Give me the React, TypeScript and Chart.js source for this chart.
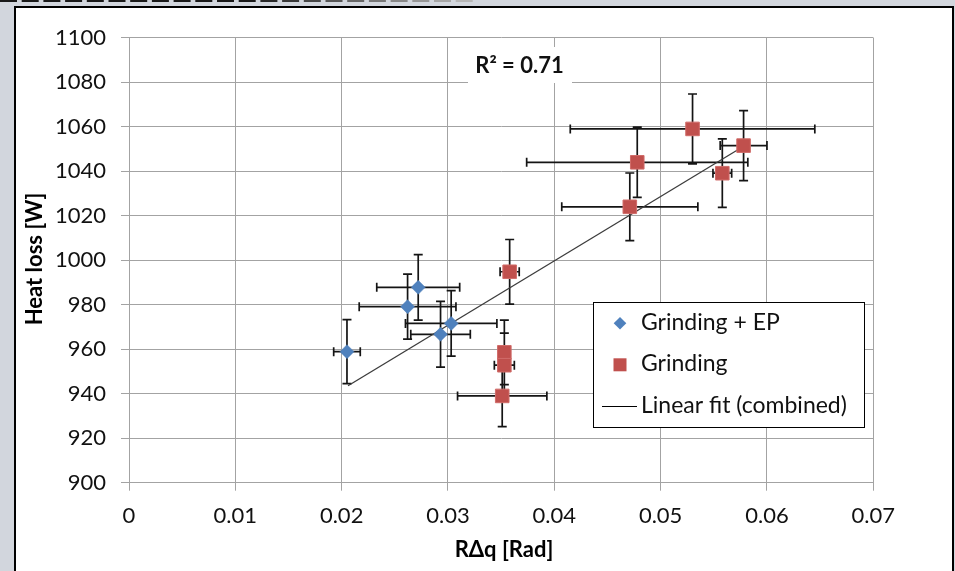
import React, { useEffect, useRef } from "react";
import { Chart, registerables } from "chart.js";

Chart.register(...registerables);

const W = 955;
const H = 571;

// X axis (RΔq [Rad]) tick values
const xTickValues = [0, 0.01, 0.02, 0.03, 0.04, 0.05, 0.06, 0.07];
// Y axis (Heat loss [W]) tick values
const yTickValues = [900, 920, 940, 960, 980, 1000, 1020, 1040, 1060, 1080, 1100];

// Grinding + EP
const gepX = [0.0205, 0.0262, 0.0272, 0.0293, 0.0303];
const gepY = [958.9, 979.1, 987.8, 966.7, 971.6];
const gepXErr = [0.00125, 0.00455, 0.0039, 0.0028, 0.0043];
const gepYErr = [14.4, 14.6, 14.7, 14.8, 14.7];

// Grinding
const grX = [0.0358, 0.0353, 0.0353, 0.0351, 0.0471, 0.0478, 0.053, 0.0578, 0.0558];
const grY = [994.8, 958.6, 952.8, 939.0, 1024.0, 1044.0, 1059.0, 1051.5, 1039.1];
const grXErr = [0.0009, 0.0005, 0.00094, 0.0042, 0.0064, 0.0104, 0.0115, 0.0022, 0.00088];
const grYErr = [14.5, 14.5, 14.4, 13.8, 15.2, 15.8, 15.7, 15.7, 15.4];

// Linear fit (combined) end points
const fitX = [0.0206, 0.058];
const fitY = [943.6, 1051.8];

const r2Label = "R² = 0.71";
const seriesNames = ["Grinding + EP", "Grinding", "Linear fit (combined)"];
const xTitle = "RΔq [Rad]";
const yTitle = "Heat loss [W]";

const BLUE = "#4f81bd";
const RED = "#c0504d";
const FONT = "Lato";

const toPts = (xs: number[], ys: number[]) => xs.map((x, i) => ({ x, y: ys[i] }));

const panelPlugin = {
  id: "panel",
  beforeDraw(chart: any) {
    const ctx = chart.ctx;
    ctx.save();
    ctx.fillStyle = "#d2d6dd";
    ctx.fillRect(0, 0, W, H);
    for (let x = 0; x < 460; x += 21.7) {
      const shade = x < 240 ? 25 : Math.round(25 + ((x - 240) / 220) * 160);
      ctx.fillStyle = `rgb(${shade},${shade},${shade})`;
      ctx.fillRect(x, 0, 17, 2);
    }
    ctx.fillStyle = "#ffffff";
    ctx.fillRect(14, 6, 940, H);
    ctx.fillStyle = "#000000";
    ctx.fillRect(14, 6, 2, H);
    ctx.fillRect(14, 6, 940, 2);
    ctx.fillRect(952, 6, 2, H);
    ctx.restore();
  },
};

const errorBarPlugin = {
  id: "errorBars",
  beforeDatasetsDraw(chart: any) {
    const { ctx } = chart;
    const xs = chart.scales.x;
    const ys = chart.scales.y;
    ctx.save();
    // R² label box
    ctx.fillStyle = "#ffffff";
    ctx.fillRect(468, 47, 104, 36);
    ctx.fillStyle = "#111";
    ctx.font = `bold 22px ${FONT}`;
    ctx.textAlign = "center";
    ctx.textBaseline = "middle";
    ctx.fillText(r2Label, 519.5, 66);

    ctx.strokeStyle = "#141414";
    ctx.lineWidth = 1.7;
    const cap = 4.5;
    const groups: [number[], number[], number[], number[]][] = [
      [gepX, gepY, gepXErr, gepYErr],
      [grX, grY, grXErr, grYErr],
    ];
    ctx.beginPath();
    for (const [gx, gy, ex, ey] of groups) {
      for (let i = 0; i < gx.length; i++) {
        const px = xs.getPixelForValue(gx[i]);
        const py = ys.getPixelForValue(gy[i]);
        const x0 = xs.getPixelForValue(gx[i] - ex[i]);
        const x1 = xs.getPixelForValue(gx[i] + ex[i]);
        const y0 = ys.getPixelForValue(gy[i] + ey[i]);
        const y1 = ys.getPixelForValue(gy[i] - ey[i]);
        ctx.moveTo(x0, py);
        ctx.lineTo(x1, py);
        ctx.moveTo(x0, py - cap);
        ctx.lineTo(x0, py + cap);
        ctx.moveTo(x1, py - cap);
        ctx.lineTo(x1, py + cap);
        ctx.moveTo(px, y0);
        ctx.lineTo(px, y1);
        ctx.moveTo(px - cap, y0);
        ctx.lineTo(px + cap, y0);
        ctx.moveTo(px - cap, y1);
        ctx.lineTo(px + cap, y1);
      }
    }
    ctx.stroke();
    ctx.restore();
  },
};

const overlayPlugin = {
  id: "overlay",
  afterDraw(chart: any) {
    const ctx = chart.ctx;
    ctx.save();
    // axis titles
    ctx.fillStyle = "#000";
    ctx.font = `bold 22px ${FONT}`;
    ctx.textAlign = "center";
    ctx.textBaseline = "middle";
    ctx.fillText(xTitle, 504, 550);
    ctx.save();
    ctx.translate(35, 259);
    ctx.rotate(-Math.PI / 2);
    ctx.fillText(yTitle, 0, 0);
    ctx.restore();

    // legend
    ctx.fillStyle = "#fff";
    ctx.fillRect(593.5, 302.5, 271, 125);
    ctx.strokeStyle = "#000";
    ctx.lineWidth = 1;
    ctx.strokeRect(593.5, 302.5, 271, 125);

    // diamond
    ctx.fillStyle = BLUE;
    ctx.beginPath();
    ctx.moveTo(620, 317);
    ctx.lineTo(626.3, 323.3);
    ctx.lineTo(620, 329.6);
    ctx.lineTo(613.7, 323.3);
    ctx.closePath();
    ctx.fill();
    // square
    ctx.fillStyle = RED;
    ctx.fillRect(613.5, 358.3, 13, 13);
    // line
    ctx.strokeStyle = "#000";
    ctx.lineWidth = 1.2;
    ctx.beginPath();
    ctx.moveTo(602, 406.5);
    ctx.lineTo(637, 406.5);
    ctx.stroke();

    ctx.fillStyle = "#111";
    ctx.font = `23px ${FONT}`;
    ctx.textAlign = "left";
    ctx.textBaseline = "middle";
    ctx.fillText(seriesNames[0], 641, 323);
    ctx.fillText(seriesNames[1], 641, 364);
    ctx.fillText(seriesNames[2], 641, 406);
    ctx.restore();
  },
};

export default function App() {
  const ref = useRef<HTMLCanvasElement | null>(null);
  useEffect(() => {
    if (!ref.current) return;
    const fmt = (v: number) => String(Number(v.toFixed(2)));
    const chart = new Chart(ref.current, {
      type: "scatter",
      data: {
        datasets: [
          {
            label: seriesNames[0],
            data: toPts(gepX, gepY),
            pointStyle: "rectRot",
            pointRadius: 7,
            backgroundColor: BLUE,
            borderColor: BLUE,
            borderWidth: 0.5,
          },
          {
            label: seriesNames[1],
            data: toPts(grX, grY),
            pointStyle: "rect",
            pointRadius: 9.6,
            backgroundColor: RED,
            borderColor: "#d06c69",
            borderWidth: 1,
          },
          {
            label: seriesNames[2],
            data: toPts(fitX, fitY),
            showLine: true,
            pointRadius: 0,
            borderColor: "#3c3c3c",
            borderWidth: 1.3,
            backgroundColor: "#3c3c3c",
          },
        ],
      },
      options: {
        responsive: false,
        animation: false,
        events: [],
        layout: { padding: { left: 14, top: 37.7, right: 81.7, bottom: 40 } },
        plugins: {
          legend: { display: false },
          tooltip: { enabled: false },
          title: { display: false },
        },
        scales: {
          x: {
            type: "linear",
            min: xTickValues[0],
            max: xTickValues[xTickValues.length - 1],
            afterBuildTicks: (s: any) => {
              s.ticks = xTickValues.map((v) => ({ value: v }));
            },
            afterFit: (s: any) => {
              s.height = 48.3;
            },
            grid: { color: "#a3a3a3", lineWidth: 1, tickLength: 8, drawTicks: true },
            border: { color: "#a3a3a3", width: 1 },
            ticks: {
              font: { family: FONT, size: 22 },
              color: "#111",
              padding: 12,
              maxRotation: 0,
              callback: (v: any) => fmt(Number(v)),
            },
          },
          y: {
            type: "linear",
            min: yTickValues[0],
            max: yTickValues[yTickValues.length - 1],
            afterBuildTicks: (s: any) => {
              s.ticks = yTickValues.map((v) => ({ value: v }));
            },
            afterFit: (s: any) => {
              s.width = 115;
            },
            grid: { color: "#a3a3a3", lineWidth: 1, tickLength: 8, drawTicks: true },
            border: { color: "#a3a3a3", width: 1 },
            ticks: {
              font: { family: FONT, size: 22 },
              color: "#111",
              padding: 15,
              callback: (v: any) => String(v),
            },
          },
        },
      },
      plugins: [panelPlugin, errorBarPlugin, overlayPlugin],
    } as any);
    return () => chart.destroy();
  }, []);
  return (
    <div style={{ position: "absolute", left: 0, top: 0, width: W, height: H }}>
      <canvas ref={ref} width={W} height={H} style={{ width: W, height: H, display: "block" }} />
    </div>
  );
}
